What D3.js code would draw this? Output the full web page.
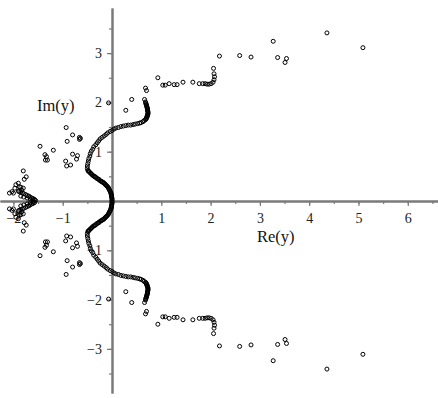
<!DOCTYPE html>
<html>
<head>
<meta charset="utf-8">
<script src="https://cdn.jsdelivr.net/npm/d3@7"></script>
<style>
  body { margin: 0; background: #fff; }
  .title { font-family: "Liberation Serif", "Times New Roman", serif; font-size: 16.5px; fill: #111; }
</style>
</head>
<body>
<svg id="chart" width="438" height="398"></svg>
<script>
// values, [Re(y), Im(y)]
const centralCurveUp = [
  [0, 0], [0, 0.02], [0, 0.04], [0, 0.06], [-0.01, 0.08], [-0.01, 0.10], [-0.01, 0.12],
  [-0.02, 0.14], [-0.02, 0.16], [-0.03, 0.18], [-0.04, 0.20], [-0.05, 0.22], [-0.06, 0.24],
  [-0.07, 0.26], [-0.08, 0.28], [-0.10, 0.30], [-0.11, 0.31], [-0.13, 0.33], [-0.14, 0.34],
  [-0.16, 0.36], [-0.17, 0.37], [-0.19, 0.38], [-0.20, 0.39], [-0.22, 0.40], [-0.24, 0.41],
  [-0.26, 0.43], [-0.27, 0.44], [-0.29, 0.45], [-0.31, 0.46], [-0.33, 0.48], [-0.34, 0.49],
  [-0.36, 0.50], [-0.38, 0.51], [-0.40, 0.53], [-0.41, 0.54], [-0.43, 0.56], [-0.44, 0.57],
  [-0.46, 0.59], [-0.47, 0.60], [-0.48, 0.61], [-0.49, 0.62],
  [-0.50, 0.66], [-0.50, 0.71], [-0.49, 0.76], [-0.48, 0.81], [-0.47, 0.86], [-0.45, 0.91],
  [-0.44, 0.96], [-0.42, 1.01], [-0.39, 1.05], [-0.37, 1.10], [-0.33, 1.14], [-0.30, 1.18],
  [-0.27, 1.22], [-0.24, 1.26], [-0.20, 1.29], [-0.16, 1.32], [-0.12, 1.35], [-0.09, 1.38],
  [-0.04, 1.41], [0.00, 1.43], [0.04, 1.46], [0.08, 1.48], [0.13, 1.49], [0.18, 1.51],
  [0.23, 1.52], [0.28, 1.53], [0.33, 1.54], [0.38, 1.54], [0.43, 1.55], [0.47, 1.56],
  [0.52, 1.57], [0.56, 1.58], [0.59, 1.59], [0.63, 1.61], [0.65, 1.63],
  [0.68, 1.65], [0.69, 1.665], [0.70, 1.68], [0.705, 1.695], [0.71, 1.71], [0.715, 1.725],
  [0.72, 1.74], [0.725, 1.755], [0.73, 1.77], [0.73, 1.79], [0.73, 1.81], [0.725, 1.825],
  [0.72, 1.84], [0.72, 1.855], [0.72, 1.87], [0.715, 1.885], [0.71, 1.90], [0.705, 1.92],
  [0.70, 1.94], [0.695, 1.955], [0.69, 1.97], [0.685, 1.99], [0.68, 2.01],
  [0.66, 2.06], [0.70, 2.24], [0.68, 2.29]
];
const centralCurveDown = [
  [0, -0.02], [0, -0.04], [0, -0.06], [-0.01, -0.08], [-0.01, -0.10], [-0.01, -0.12],
  [-0.02, -0.14], [-0.02, -0.16], [-0.03, -0.18], [-0.04, -0.20], [-0.05, -0.22], [-0.06, -0.24],
  [-0.07, -0.26], [-0.08, -0.28], [-0.10, -0.30], [-0.11, -0.31], [-0.13, -0.33], [-0.14, -0.34],
  [-0.16, -0.36], [-0.17, -0.37], [-0.19, -0.38], [-0.20, -0.39], [-0.22, -0.40], [-0.24, -0.41],
  [-0.26, -0.43], [-0.27, -0.44], [-0.29, -0.45], [-0.31, -0.46], [-0.33, -0.48], [-0.34, -0.49],
  [-0.36, -0.50], [-0.38, -0.51], [-0.40, -0.53], [-0.41, -0.54], [-0.43, -0.56], [-0.44, -0.57],
  [-0.46, -0.59], [-0.47, -0.60], [-0.48, -0.61], [-0.49, -0.62],
  [-0.50, -0.66], [-0.50, -0.71], [-0.49, -0.76], [-0.48, -0.81], [-0.47, -0.86], [-0.45, -0.91],
  [-0.44, -0.96], [-0.42, -1.01], [-0.39, -1.05], [-0.37, -1.10], [-0.33, -1.14], [-0.30, -1.18],
  [-0.27, -1.22], [-0.24, -1.26], [-0.20, -1.29], [-0.16, -1.32], [-0.12, -1.35], [-0.09, -1.38],
  [-0.04, -1.41], [0.00, -1.43], [0.04, -1.46], [0.08, -1.48], [0.13, -1.49], [0.18, -1.51],
  [0.23, -1.52], [0.28, -1.53], [0.33, -1.54], [0.38, -1.54], [0.43, -1.55], [0.47, -1.56],
  [0.52, -1.57], [0.56, -1.58], [0.59, -1.59], [0.63, -1.61], [0.65, -1.63],
  [0.68, -1.65], [0.69, -1.665], [0.70, -1.68], [0.705, -1.695], [0.71, -1.71], [0.715, -1.725],
  [0.72, -1.74], [0.725, -1.755], [0.73, -1.77], [0.73, -1.79], [0.73, -1.81], [0.725, -1.825],
  [0.72, -1.84], [0.72, -1.855], [0.72, -1.87], [0.715, -1.885], [0.71, -1.90], [0.705, -1.92],
  [0.70, -1.94], [0.695, -1.955], [0.69, -1.97], [0.685, -1.99], [0.68, -2.01],
  [0.66, -2.06], [0.70, -2.24], [0.68, -2.29]
];
const outerArmUp = [
  [-0.07, 1.99], [0.28, 1.84], [0.40, 2.06], [0.93, 2.50], [1.03, 2.35], [1.08, 2.35],
  [1.16, 2.38], [1.26, 2.36], [1.32, 2.36], [1.44, 2.41], [1.64, 2.41], [1.77, 2.38],
  [1.84, 2.38], [1.89, 2.38], [1.93, 2.37], [1.97, 2.37], [2.01, 2.38], [2.05, 2.41],
  [2.07, 2.46], [2.08, 2.52], [2.07, 2.58], [2.06, 2.69], [2.18, 2.94], [2.59, 2.95],
  [2.82, 2.92], [3.27, 3.24], [3.36, 2.91], [3.54, 2.89], [3.51, 2.81], [4.36, 3.41],
  [5.09, 3.11]
];
const outerArmDown = [
  [-0.07, -1.99], [0.28, -1.84], [0.40, -2.06], [0.93, -2.50], [1.03, -2.35], [1.08, -2.35],
  [1.16, -2.38], [1.26, -2.36], [1.32, -2.36], [1.44, -2.41], [1.64, -2.41], [1.77, -2.38],
  [1.84, -2.38], [1.89, -2.38], [1.93, -2.37], [1.97, -2.37], [2.01, -2.38], [2.05, -2.41],
  [2.07, -2.46], [2.08, -2.52], [2.07, -2.58], [2.06, -2.69], [2.18, -2.94], [2.59, -2.95],
  [2.82, -2.92], [3.27, -3.24], [3.36, -2.91], [3.54, -2.89], [3.51, -2.81], [4.36, -3.41],
  [5.09, -3.11]
];
const leftGroupUp = [
  [-0.93, 1.49], [-0.80, 1.34], [-0.66, 1.29], [-0.64, 1.27], [-0.66, 1.25], [-0.91, 1.21],
  [-1.46, 1.11], [-1.19, 1.03], [-1.36, 0.94], [-1.33, 0.90], [-1.35, 0.83], [-1.31, 0.83],
  [-0.80, 0.95], [-0.70, 0.92], [-0.72, 0.85], [-0.94, 0.81], [-0.84, 0.73], [-0.92, 0.71]
];
const leftGroupDown = [
  [-0.93, -1.49], [-0.80, -1.34], [-0.66, -1.29], [-0.64, -1.27], [-0.66, -1.25], [-0.91, -1.21],
  [-1.46, -1.11], [-1.19, -1.03], [-1.36, -0.94], [-1.33, -0.90], [-1.35, -0.83], [-1.31, -0.83],
  [-0.80, -0.95], [-0.70, -0.92], [-0.72, -0.85], [-0.94, -0.81], [-0.84, -0.73], [-0.92, -0.71]
];
const leftClusterUp = [
  [-1.80, 0.61], [-1.74, 0.49], [-1.78, 0.44], [-1.90, 0.36], [-1.95, 0.33], [-1.88, 0.29],
  [-1.97, 0.26], [-1.85, 0.28], [-2.03, 0.19], [-2.08, 0.16], [-2.00, 0.16], [-1.90, 0.20],
  [-1.83, 0.22], [-1.80, 0.26], [-1.88, 0.19], [-1.85, 0.18], [-1.82, 0.16], [-1.79, 0.15],
  [-1.75, 0.13], [-1.72, 0.11], [-1.69, 0.10], [-1.66, 0.08], [-1.63, 0.06], [-1.60, 0.05],
  [-1.57, 0.03], [-1.55, 0.01], [-1.85, 0.10], [-1.79, 0.08], [-1.72, 0.06], [-1.66, 0.04],
  [-1.60, 0.02]
];
const leftClusterDown = [
  [-1.80, -0.61], [-1.74, -0.49], [-1.78, -0.44], [-1.90, -0.36], [-1.95, -0.33], [-1.88, -0.29],
  [-1.97, -0.26], [-1.85, -0.28], [-2.03, -0.19], [-2.08, -0.16], [-2.00, -0.16], [-1.90, -0.20],
  [-1.83, -0.22], [-1.80, -0.26], [-1.88, -0.19], [-1.85, -0.18], [-1.82, -0.16], [-1.79, -0.15],
  [-1.75, -0.13], [-1.72, -0.11], [-1.69, -0.10], [-1.66, -0.08], [-1.63, -0.06], [-1.60, -0.05],
  [-1.57, -0.03], [-1.85, -0.10], [-1.79, -0.08], [-1.72, -0.06], [-1.66, -0.04], [-1.60, -0.02]
];

const xMajorTicks = [-2, -1, 1, 2, 3, 4, 5, 6];
const xMinorTicks = [-2, -1.5, -1, -0.5, 0.5, 1, 1.5, 2, 2.5, 3, 3.5, 4, 4.5, 5, 5.5, 6, 6.5];
const yMajorTicks = [-3, -2, -1, 1, 2, 3];
const yMinorTicks = [-3.5, -3, -2.5, -2, -1.5, -1, -0.5, 0.5, 1, 1.5, 2, 2.5, 3, 3.5];

const svg = d3.select('#chart');
const x = d3.scaleLinear().domain([-2.272, 6.613]).range([0, 438]);
const y = d3.scaleLinear().domain([3.915, -3.895]).range([8, 393]);

function styleAxis(g) {
  g.attr('font-family', '"Liberation Serif", "Times New Roman", serif')
   .attr('font-size', 14);
  g.select('.domain').attr('stroke', '#7a7a7a').attr('stroke-width', 2);
  g.selectAll('.tick line').attr('stroke', '#7a7a7a').attr('stroke-width', 1.2);
  g.selectAll('.tick text').attr('fill', '#222');
}

// minor ticks first, no labels
svg.append('g')
   .attr('transform', `translate(0,${y(0)})`)
   .call(d3.axisBottom(x).tickValues(xMinorTicks).tickSize(3).tickSizeOuter(0).tickFormat(''))
   .call(styleAxis);

svg.append('g')
   .attr('transform', `translate(0,${y(0)})`)
   .call(d3.axisBottom(x).tickValues(xMajorTicks).tickSize(5).tickSizeOuter(0).tickPadding(7))
   .call(styleAxis);

svg.append('g')
   .attr('transform', `translate(${x(0)},0)`)
   .call(d3.axisLeft(y).tickValues(yMinorTicks).tickSize(3).tickSizeOuter(0).tickFormat(''))
   .call(styleAxis);

svg.append('g')
   .attr('transform', `translate(${x(0)},0)`)
   .call(d3.axisLeft(y).tickValues(yMajorTicks).tickSize(5).tickSizeOuter(0).tickPadding(5))
   .call(styleAxis);

svg.append('text').attr('class', 'title').attr('x', 37).attr('y', 111).text('Im(y)');
svg.append('text').attr('class', 'title').attr('x', 257).attr('y', 242).text('Re(y)');

const allPoints = [].concat(
  centralCurveUp, centralCurveDown, outerArmUp, outerArmDown,
  leftGroupUp, leftGroupDown, leftClusterUp, leftClusterDown
);

svg.append('g')
   .selectAll('circle')
   .data(allPoints)
   .enter()
   .append('circle')
   .attr('cx', (p) => x(p[0]))
   .attr('cy', (p) => y(p[1]))
   .attr('r', 2)
   .attr('fill', 'none')
   .attr('stroke', '#000')
   .attr('stroke-width', 1);
</script>
</body>
</html>
